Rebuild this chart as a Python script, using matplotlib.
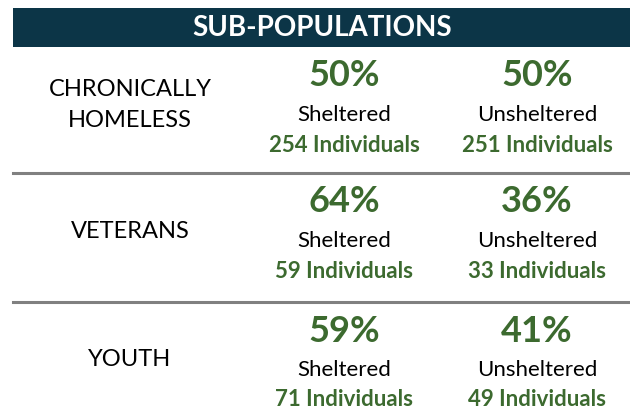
import matplotlib.pyplot as plt

categories = ['CHRONICALLY\nHOMELESS', 'VETERANS', 'YOUTH']
sheltered_pct = [50, 64, 59]
unsheltered_pct = [50, 36, 41]
sheltered_n = [254, 59, 71]
unsheltered_n = [251, 33, 49]
col_labels = ['Sheltered', 'Unsheltered']

plt.rcParams['font.family'] = ['Lato', 'DejaVu Sans']

navy = '#0c3547'
green = '#3c6a2f'

fig = plt.figure(figsize=(6.3, 4.09), dpi=100)
ax = fig.add_axes([0, 0, 1, 1])
ax.set_xlim(0, 630)
ax.set_ylim(409, 0)
ax.axis('off')

# header bar
ax.add_patch(plt.Rectangle((13, 8), 620, 39, color=navy, lw=0))
ax.text(322, 28, 'SUB-POPULATIONS', color='white', fontsize=20,
        fontweight='bold', ha='center', va='center')

row_tops = [47, 173, 302]
col_x = [344, 537]

for i, cat in enumerate(categories):
    top = row_tops[i]
    if i > 0:
        ax.plot([13, 630], [top, top], color='#808080', lw=2.2)
    ax.text(130, top + 58, cat, fontsize=17, ha='center', va='center',
            linespacing=1.55)
    pcts = [sheltered_pct[i], unsheltered_pct[i]]
    ns = [sheltered_n[i], unsheltered_n[i]]
    for j in range(2):
        ax.text(col_x[j], top + 29, f'{pcts[j]}%', color=green, fontsize=26,
                fontweight='bold', ha='center', va='center')
        ax.text(col_x[j], top + 68, col_labels[j], fontsize=16,
                ha='center', va='center')
        ax.text(col_x[j], top + 98, f'{ns[j]} Individuals', color=green,
                fontsize=16, fontweight='bold', ha='center', va='center')

fig.savefig('out.png', dpi=100)
